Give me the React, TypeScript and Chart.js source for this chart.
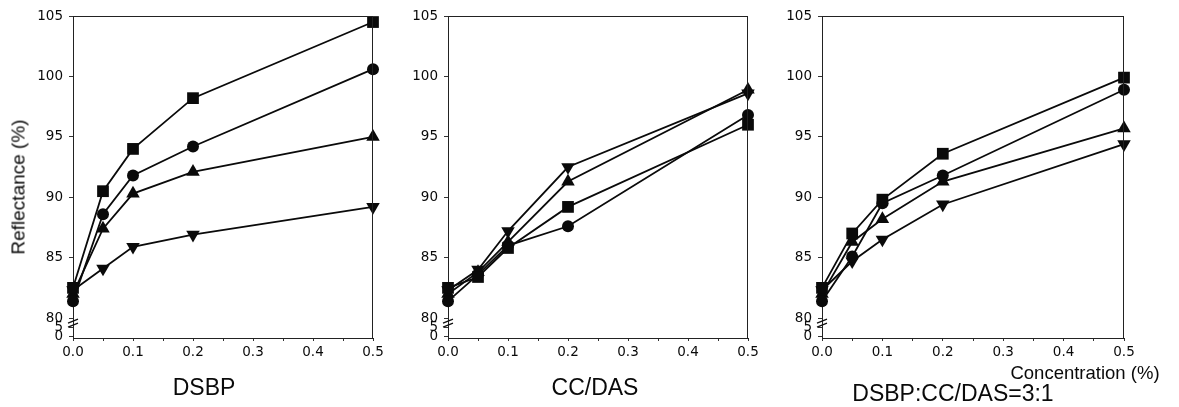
import React, { useEffect, useRef } from 'react';
import { Chart, registerables } from 'chart.js';

Chart.register(...registerables);

// Additive concentration (%) on the x axis
const concentrations = [0, 0.05, 0.1, 0.2, 0.5];

// Reflectance (%) — DSBP
const dsbpSquare = [82.5, 90.5, 94.0, 98.2, 104.5];
const dsbpCircle = [81.4, 88.6, 91.8, 94.2, 100.6];
const dsbpUp = [82.0, 87.4, 90.3, 92.1, 95.0];
const dsbpDown = [82.3, 84.1, 85.9, 86.9, 89.2];

// Reflectance (%) — CC/DAS
const ccSquare = [82.5, 83.4, 85.8, 89.2, 96.0];
const ccCircle = [81.4, 83.6, 86.0, 87.6, 96.8];
const ccUp = [82.0, 83.8, 86.3, 91.3, 98.9];
const ccDown = [82.3, 84.0, 87.2, 92.5, 98.6];

// Reflectance (%) — DSBP:CC/DAS = 3:1
const mixSquare = [82.5, 87.0, 89.8, 93.6, 99.9];
const mixCircle = [81.4, 85.1, 89.5, 91.8, 98.9];
const mixUp = [82.0, 86.3, 88.2, 91.3, 95.7];
const mixDown = [82.3, 84.7, 86.5, 89.4, 94.4];

// Y axis: upper segment ticks and the compressed 0–5 segment below the break
const yTickValues = [80, 85, 90, 95, 100, 105];
const breakTickValues = [78.5, 79.2];
const breakTickLabels = ['0', '5'];
const yMin = 78.35;
const yMax = 105;

const FONT = "'Liberation Sans', Arial, Helvetica, sans-serif";
const TICK_FONT = "'DejaVu Sans', 'Liberation Sans', Arial, sans-serif";
const INK = '#0a0a0a';

const markerStyles = [
  { pointStyle: 'rect', radius: 8.3, rotation: 0 },
  { pointStyle: 'circle', radius: 6, rotation: 0 },
  { pointStyle: 'triangle', radius: 7.8, rotation: 0 },
  { pointStyle: 'triangle', radius: 7.8, rotation: 180 },
];

// Closes the plot box on top/right and draws the axis-break marks
const framePlugin = {
  id: 'frameAndBreak',
  afterDraw(chart: any) {
    const { ctx, chartArea: a } = chart;
    const y80 = chart.scales.y.getPixelForValue(80);
    ctx.save();
    ctx.strokeStyle = '#222';
    ctx.lineWidth = 1;
    ctx.beginPath();
    ctx.moveTo(a.left, Math.round(a.top) + 0.5);
    ctx.lineTo(a.right, Math.round(a.top) + 0.5);
    ctx.moveTo(Math.round(a.right) - 0.5, a.top);
    ctx.lineTo(Math.round(a.right) - 0.5, a.bottom);
    ctx.stroke();
    ctx.lineWidth = 1.3;
    ctx.strokeStyle = '#111';
    ctx.beginPath();
    for (const dy of [3, 7]) {
      ctx.moveTo(a.left - 5, y80 + dy + 2);
      ctx.lineTo(a.left + 5, y80 + dy - 2);
    }
    ctx.stroke();
    ctx.restore();
  },
};

type PanelProps = {
  series: number[][];
  left: number;
  width: number;
  axisWidth: number;
  padRight: number;
};

function Panel({ series, left, width, axisWidth, padRight }: PanelProps) {
  const ref = useRef<HTMLCanvasElement | null>(null);

  useEffect(() => {
    if (!ref.current) return;
    const datasets = series.map((vals, i) => ({
      data: vals.map((v, j) => ({ x: concentrations[j], y: v })),
      borderColor: INK,
      backgroundColor: INK,
      borderWidth: 1.8,
      pointStyle: markerStyles[i].pointStyle as any,
      pointRadius: markerStyles[i].radius,
      pointRotation: markerStyles[i].rotation,
      pointBorderWidth: 0,
      tension: 0,
      clip: false as any,
    }));
    const allYTicks = [...breakTickValues, ...yTickValues];
    const chart = new Chart(ref.current, {
      type: 'line',
      data: { datasets },
      options: {
        animation: false,
        responsive: false,
        layout: { padding: { left: 0, right: padRight, top: 16, bottom: 0 } },
        plugins: { legend: { display: false }, tooltip: { enabled: false } },
        scales: {
          x: {
            type: 'linear',
            min: 0,
            max: 0.5,
            afterFit: (s: any) => {
              s.height = 69;
            },
            ticks: {
              stepSize: 0.05,
              autoSkip: false,
              maxRotation: 0,
              padding: 3,
              color: INK,
              font: { family: TICK_FONT, size: 13.5 },
              callback: (v: any) =>
                Math.round(Number(v) * 100) % 10 === 0 ? Number(v).toFixed(1) : '',
            },
            grid: { drawOnChartArea: false, tickLength: 3, color: '#333' },
            border: { color: '#222', width: 1 },
          },
          y: {
            type: 'linear',
            min: yMin,
            max: yMax,
            afterFit: (s: any) => {
              s.width = axisWidth;
            },
            afterBuildTicks: (s: any) => {
              s.ticks = allYTicks.map((value) => ({ value }));
            },
            ticks: {
              autoSkip: false,
              padding: 6,
              color: INK,
              font: { family: TICK_FONT, size: 13.5 },
              callback: (v: any) => {
                const k = breakTickValues.indexOf(Number(v));
                return k >= 0 ? breakTickLabels[k] : String(v);
              },
            },
            grid: { drawOnChartArea: false, tickLength: 4, color: '#333' },
            border: { color: '#222', width: 1 },
          },
        },
      },
      plugins: [framePlugin],
    });
    return () => chart.destroy();
  }, [series, axisWidth, padRight]);

  return (
    <canvas
      ref={ref}
      width={width}
      height={407}
      style={{ position: 'absolute', left, top: 0, width, height: 407 }}
    />
  );
}

const caption = (text: string, x: number, y: number, size: number, rotate = false) => (
  <div
    style={{
      position: 'absolute',
      left: x,
      top: y,
      transform: `translate(-50%, -50%)${rotate ? ' rotate(-90deg)' : ''}`,
      fontFamily: FONT,
      fontSize: size,
      lineHeight: 1,
      whiteSpace: 'nowrap',
      color: INK,
    }}
  >
    {text}
  </div>
);

export default function App() {
  return (
    <div
      style={{
        position: 'absolute',
        left: 0,
        top: 0,
        width: 1179,
        height: 407,
        background: '#fff',
        overflow: 'hidden',
      }}
    >
      <Panel
        series={[dsbpSquare, dsbpCircle, dsbpUp, dsbpDown]}
        left={0}
        width={393}
        axisWidth={73}
        padRight={20}
      />
      <Panel
        series={[ccSquare, ccCircle, ccUp, ccDown]}
        left={393}
        width={375}
        axisWidth={55}
        padRight={20}
      />
      <Panel
        series={[mixSquare, mixCircle, mixUp, mixDown]}
        left={768}
        width={411}
        axisWidth={54}
        padRight={55}
      />
      {caption('Reflectance (%)', 18, 187, 19, true)}
      {caption('DSBP', 204, 387, 23)}
      {caption('CC/DAS', 595, 387, 23)}
      {caption('Concentration (%)', 1085, 373, 18.5)}
      {caption('DSBP:CC/DAS=3:1', 953, 393, 23)}
    </div>
  );
}
